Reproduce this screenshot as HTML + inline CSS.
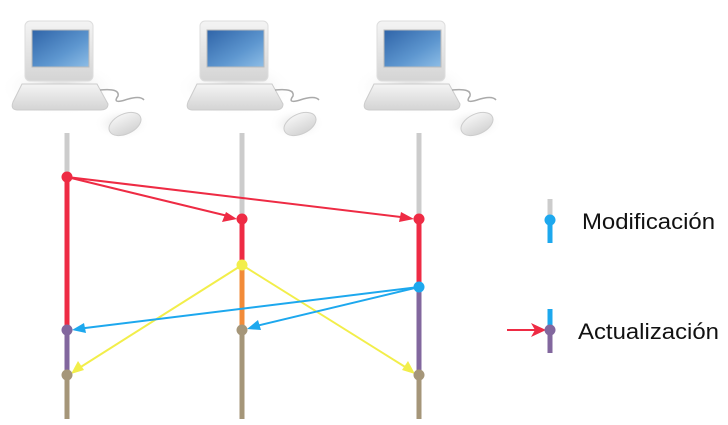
<!DOCTYPE html>
<html><head><style>body{margin:0;background:#fff}svg{display:block}</style></head><body>
<svg width="728" height="425" viewBox="0 0 728 425" xmlns="http://www.w3.org/2000/svg">
<defs>
<linearGradient id="scr" x1="0" y1="0" x2="1" y2="1"><stop offset="0" stop-color="#2f64a8"/><stop offset="0.6" stop-color="#5d96cf"/><stop offset="1" stop-color="#8dbde6"/></linearGradient>
<linearGradient id="body" x1="0" y1="0" x2="0" y2="1"><stop offset="0" stop-color="#f4f4f4"/><stop offset="1" stop-color="#d4d4d4"/></linearGradient>
<radialGradient id="sh"><stop offset="0" stop-color="#ccc" stop-opacity="0.8"/><stop offset="1" stop-color="#fff" stop-opacity="0"/></radialGradient>
<g id="pc">
<ellipse cx="60" cy="88" rx="60" ry="28" fill="url(#sh)"/>
<ellipse cx="122" cy="124" rx="28" ry="16" fill="url(#sh)"/>
<rect x="25" y="21" width="68" height="60" rx="5" fill="url(#body)" stroke="#ddd"/>
<rect x="32" y="30" width="57" height="37" fill="url(#scr)" stroke="#bbb"/>
<path d="M22 84 L97 84 L108 104 Q108 110 100 110 L18 110 Q10 110 13 102 Z" fill="url(#body)" stroke="#ccc"/>
<path d="M100 90 Q120 88 118 96 Q112 104 125 100 Q140 95 144 100" fill="none" stroke="#aaa" stroke-width="1.5"/>
<ellipse cx="125" cy="124" rx="17" ry="10" transform="rotate(-25 125 124)" fill="url(#body)" stroke="#ccc"/>
</g>
</defs>
<use href="#pc"/>
<use href="#pc" x="175"/>
<use href="#pc" x="352"/>
<g stroke-width="5" fill="none">
<line x1="67" y1="133" x2="67" y2="177" stroke="#cccccc"/>
<line x1="67" y1="177" x2="67" y2="330" stroke="#ee2b44"/>
<line x1="67" y1="330" x2="67" y2="375" stroke="#82679e"/>
<line x1="67" y1="375" x2="67" y2="419" stroke="#a59679"/>
<line x1="242" y1="133" x2="242" y2="219" stroke="#cccccc"/>
<line x1="242" y1="219" x2="242" y2="265" stroke="#ee2b44"/>
<line x1="242" y1="265" x2="242" y2="330" stroke="#f28b38"/>
<line x1="242" y1="330" x2="242" y2="419" stroke="#a59679"/>
<line x1="419" y1="133" x2="419" y2="219" stroke="#cccccc"/>
<line x1="419" y1="219" x2="419" y2="287" stroke="#ee2b44"/>
<line x1="419" y1="287" x2="419" y2="375" stroke="#82679e"/>
<line x1="419" y1="375" x2="419" y2="419" stroke="#a59679"/>
<line x1="550" y1="199" x2="550" y2="220" stroke="#cccccc"/>
<line x1="550" y1="220" x2="550" y2="243" stroke="#1da8ee"/>
<line x1="550" y1="309" x2="550" y2="330" stroke="#1da8ee"/>
<line x1="550" y1="330" x2="550" y2="353" stroke="#82679e"/>
</g>
<g stroke-width="2" fill="none">
<line x1="67" y1="177" x2="232" y2="217" stroke="#ee2b44"/>
<line x1="67" y1="177" x2="409" y2="218" stroke="#ee2b44"/>
<line x1="242" y1="265" x2="76" y2="370" stroke="#f2ee4a"/>
<line x1="242" y1="265" x2="410" y2="370" stroke="#f2ee4a"/>
<line x1="419" y1="287" x2="77" y2="329" stroke="#1da8ee"/>
<line x1="419" y1="287" x2="252" y2="327" stroke="#1da8ee"/>
<line x1="507" y1="330" x2="540" y2="330" stroke="#ee2b44"/>
</g>
<g>
<polygon points="237,219 222,222 226,212" fill="#ee2b44"/>
<polygon points="414,219 399,222 401,212" fill="#ee2b44"/>
<polygon points="71,374 78,361 84,370" fill="#f2ee4a"/>
<polygon points="415,374 402,370 408,361" fill="#f2ee4a"/>
<polygon points="72,330 84,323 86,333" fill="#1da8ee"/>
<polygon points="247,329 258,320 261,330" fill="#1da8ee"/>
<polygon points="546,330 531,323 535,330 531,337" fill="#ee2b44"/>
</g>
<g>
<circle cx="67" cy="177" r="5.5" fill="#ee2b44"/>
<circle cx="242" cy="219" r="5.5" fill="#ee2b44"/>
<circle cx="419" cy="219" r="5.5" fill="#ee2b44"/>
<circle cx="242" cy="265" r="5.5" fill="#f2ee4a"/>
<circle cx="419" cy="287" r="5.5" fill="#1da8ee"/>
<circle cx="67" cy="330" r="5.5" fill="#82679e"/>
<circle cx="242" cy="330" r="5.5" fill="#a59679"/>
<circle cx="67" cy="375" r="5.5" fill="#a59679"/>
<circle cx="419" cy="375" r="5.5" fill="#a59679"/>
<circle cx="550" cy="220" r="5.5" fill="#1da8ee"/>
<circle cx="550" cy="330" r="5.5" fill="#82679e"/>
</g>
<text x="582" y="229" font-family="Liberation Sans, sans-serif" font-size="22" textLength="133" lengthAdjust="spacingAndGlyphs" fill="#111">Modificación</text>
<text x="578" y="339" font-family="Liberation Sans, sans-serif" font-size="22" textLength="141" lengthAdjust="spacingAndGlyphs" fill="#111">Actualización</text>
</svg>
</body></html>
